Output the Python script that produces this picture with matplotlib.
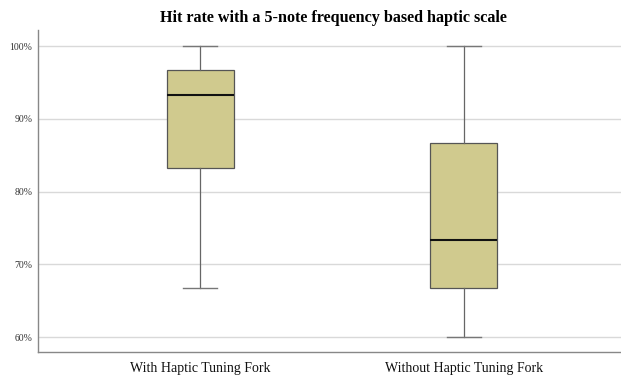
import matplotlib
matplotlib.use("Agg")
import matplotlib.pyplot as plt
from matplotlib.ticker import FuncFormatter

categories = ["With Haptic Tuning Fork", "Without Haptic Tuning Fork"]
whislo = [66.7, 60.0]
q1 = [83.3, 66.7]
med = [93.3, 73.3]
q3 = [96.7, 86.7]
whishi = [100.0, 100.0]
yticks = [60, 70, 80, 90, 100]

stats = []
for i, c in enumerate(categories):
    stats.append(dict(label=c, whislo=whislo[i], q1=q1[i], med=med[i],
                      q3=q3[i], whishi=whishi[i], fliers=[]))

fig = plt.figure(figsize=(6.21, 3.76), dpi=100)
ax = fig.add_axes([38/621, 1-352/376, (621-38)/621, (352-30)/376])

ax.bxp(stats, positions=[0, 1], widths=0.254, patch_artist=True,
       boxprops=dict(facecolor="#D0CA8E", edgecolor="#555555", linewidth=0.9),
       medianprops=dict(color="#111111", linewidth=1.5),
       whiskerprops=dict(color="#666666", linewidth=0.9),
       capprops=dict(color="#777777", linewidth=1.0),
       capwidths=0.127, showfliers=False, zorder=3)

ax.set_xlim(-0.614, 1.595)
ax.set_ylim(57.94, 102.2)
ax.set_yticks(yticks)
ax.yaxis.set_major_formatter(FuncFormatter(lambda v, p: f"{int(v)}%"))
ax.grid(axis="y", color="#d9d9d9", linewidth=1.0, zorder=0)
ax.set_axisbelow(True)
for s in ["top", "right"]:
    ax.spines[s].set_visible(False)
for s in ["left", "bottom"]:
    ax.spines[s].set_color("#888888")
    ax.spines[s].set_linewidth(1.0)
ax.tick_params(axis="y", length=0, pad=4, labelsize=7, labelcolor="#333333")
ax.tick_params(axis="x", length=0, pad=7.5, labelsize=10, labelcolor="#111111")
for lab in ax.get_yticklabels() + ax.get_xticklabels():
    lab.set_fontfamily("Liberation Serif")

fig.text(333/621, 1-18/376, "Hit rate with a 5-note frequency based haptic scale",
         ha="center", va="center", fontsize=11.6, fontweight="bold",
         family="Liberation Serif")

fig.savefig("out.png", dpi=100)
